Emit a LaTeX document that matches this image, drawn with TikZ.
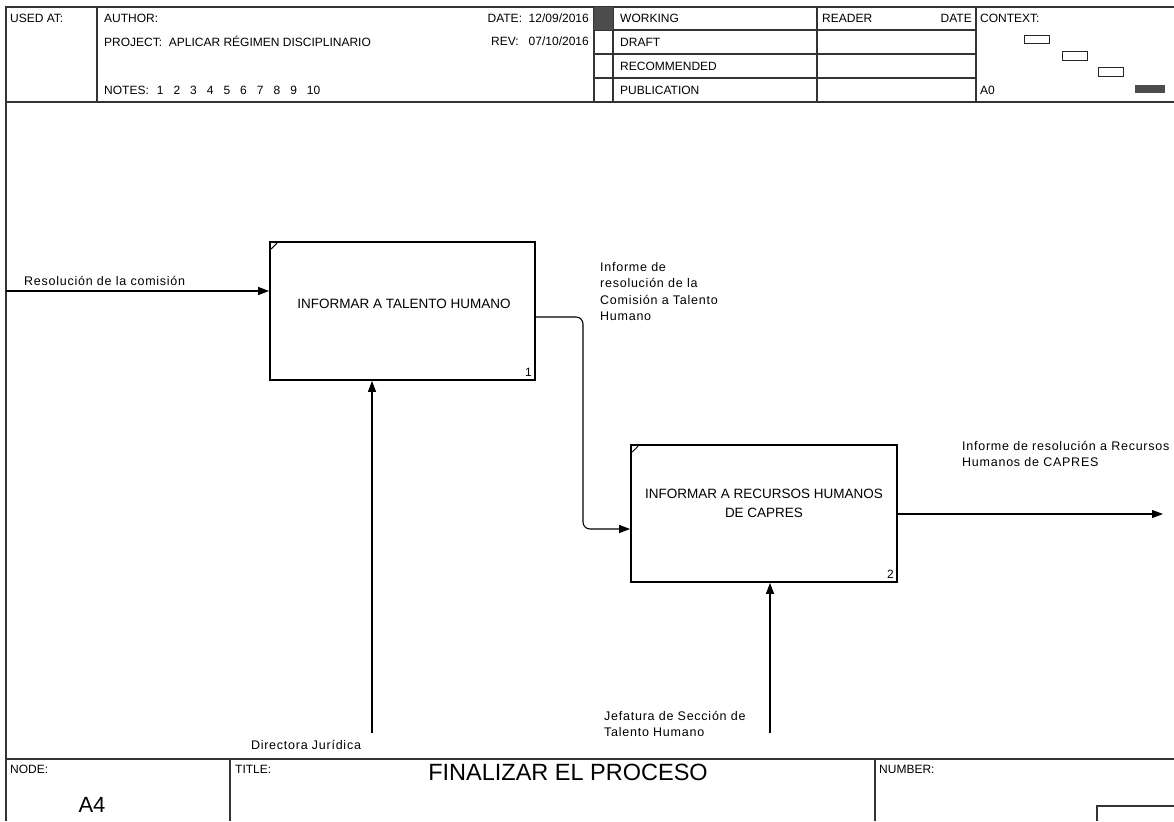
\documentclass[tikz,border=0pt]{standalone}
\usepackage{fontspec}
\setmainfont{Liberation Sans}
\newfontfamily\lblfont[LetterSpace=6]{Liberation Sans}
\usetikzlibrary{arrows.meta}
\begin{document}
\begin{tikzpicture}[x=1pt,y=-1pt,
  frame/.style={draw=black!80,line width=1.1pt},
  hdr/.style={inner sep=0pt,font=\fontsize{12}{14}\selectfont},
  lbl/.style={inner sep=0pt,font=\lblfont\fontsize{12.5}{16.5}\selectfont,align=left},
  boxtxt/.style={inner sep=0pt,font=\fontsize{13.5}{19}\selectfont,align=center},
  procbox/.style={draw=black,line width=1.8pt,minimum width=265pt,minimum height=138pt,inner sep=0pt},
  arr/.style={line width=1.1pt,-{Triangle[length=11pt,width=8pt]}},
  ctxbox/.style={draw=black!85,line width=1pt}
]
\useasboundingbox (0,0) rectangle (1174,821);
% ---------- outer frame and header ----------
\draw[frame] (6,821) -- (6,7) -- (1174,7);
\draw[frame] (6,102) -- (1174,102);
\draw[frame] (6,759) -- (1174,759);
\foreach \xx in {97,594,613,817,976} \draw[frame] (\xx,7) -- (\xx,102);
\foreach \yy in {30,54,78} \draw[frame] (594,\yy) -- (976,\yy);
\fill[black!70] (594,7) rectangle (613,30);
\node[hdr,anchor=west] (usedat) at (10,18) {USED AT:};
\node[hdr,anchor=west] (author) at (104,18) {AUTHOR:};
\node[hdr,anchor=west] (project) at (104,41) {PROJECT:\ \ APLICAR RÉGIMEN DISCIPLINARIO};
\node[hdr,anchor=west] (notes) at (104,90) {NOTES:\hspace{8pt}1\hspace{10pt}2\hspace{10pt}3\hspace{10pt}4\hspace{10pt}5\hspace{10pt}6\hspace{10pt}7\hspace{10pt}8\hspace{10pt}9\hspace{10pt}10};
\node[hdr,anchor=east] (date) at (589,18) {DATE:\ \ 12/09/2016};
\node[hdr,anchor=east] (rev) at (589,41) {REV:\ \ \ 07/10/2016};
\node[hdr,anchor=west] (working) at (620,18) {WORKING};
\node[hdr,anchor=west] (draft) at (620,42) {DRAFT};
\node[hdr,anchor=west] (recom) at (620,66) {RECOMMENDED};
\node[hdr,anchor=west] (publ) at (620,90) {PUBLICATION};
\node[hdr,anchor=west] (reader) at (822,18) {READER};
\node[hdr,anchor=east] (rdate) at (972,18) {DATE};
\node[hdr,anchor=west] (context) at (980,18) {CONTEXT:};
\node[hdr,anchor=west] (a0) at (980,90) {A0};
\draw[ctxbox] (1024,36) rectangle (1049,44);
\draw[ctxbox] (1062,52) rectangle (1087,61);
\draw[ctxbox] (1098,68) rectangle (1123,77);
\fill[black!70] (1135,85) rectangle (1165,93);
% ---------- footer ----------
\draw[frame] (230,759) -- (230,821);
\draw[frame] (875,759) -- (875,821);
\draw[frame] (1097,821) -- (1097,806) -- (1174,806);
\node[hdr,anchor=west] (nodelbl) at (10,769) {NODE:};
\node[hdr,anchor=west] (titlelbl) at (235,769) {TITLE:};
\node[hdr,anchor=west] (numlbl) at (879,769) {NUMBER:};
\node[inner sep=0pt,font=\fontsize{23.5}{26}\selectfont] (title) at (568,772) {FINALIZAR EL PROCESO};
\node[inner sep=0pt,font=\fontsize{22}{24}\selectfont] (nodeid) at (92,805) {A4};
% ---------- activity boxes ----------
\node[procbox] (b1) at (402.5,311) {};
\node[procbox,minimum width=266pt,minimum height=137pt] (b2) at (764,513.5) {};
\draw[line width=1pt] ([shift={(2pt,-8pt)}]b1.north west) -- ([shift={(8pt,-2pt)}]b1.north west);
\draw[line width=1pt] ([shift={(2pt,-8pt)}]b2.north west) -- ([shift={(8pt,-2pt)}]b2.north west);
\node[boxtxt] (b1t) at (404,304) {INFORMAR A TALENTO HUMANO};
\node[boxtxt] (b2t) at (764,503) {INFORMAR A RECURSOS HUMANOS\\DE CAPRES};
\node[inner sep=0pt,font=\fontsize{12}{14}\selectfont,anchor=south east] (n1) at ([shift={(-4pt,4pt)}]b1.south east) {1};
\node[inner sep=0pt,font=\fontsize{12}{14}\selectfont,anchor=south east] (n2) at ([shift={(-4pt,4pt)}]b2.south east) {2};
% ---------- connectors ----------
\coordinate (in1) at (6,291);
\draw[arr] (in1) -- (in1 -| b1.west);
\node[lbl,anchor=west] (in1l) at (24,281) {Resolución de la comisión};
\coordinate (o1) at (535,317);
\coordinate (turn1) at (583,317);
\coordinate (turn2) at (583,529);
\draw[arr,rounded corners=7pt] (o1 -| b1.east) -- (turn1) -- (turn2) -- (turn2 -| b2.west);
\node[lbl,anchor=north west] (o1l) at (600,262) {Informe de\\resolución de la\\Comisión a Talento\\Humano};
\coordinate (out2) at (1163,514);
\draw[arr] (out2 -| b2.east) -- (out2);
\node[lbl,anchor=north west] (out2l) at (962,441) {Informe de resolución a Recursos\\Humanos de CAPRES};
\coordinate (m1) at (372,733);
\draw[arr] (m1) -- (m1 |- b1.south);
\node[lbl,anchor=center] (m1l) at (306,745) {Directora Jurídica};
\coordinate (m2) at (770,733);
\draw[arr] (m2) -- (m2 |- b2.south);
\node[lbl,anchor=north west] (m2l) at (604,711) {Jefatura de Sección de\\Talento Humano};
\end{tikzpicture}
\end{document}
